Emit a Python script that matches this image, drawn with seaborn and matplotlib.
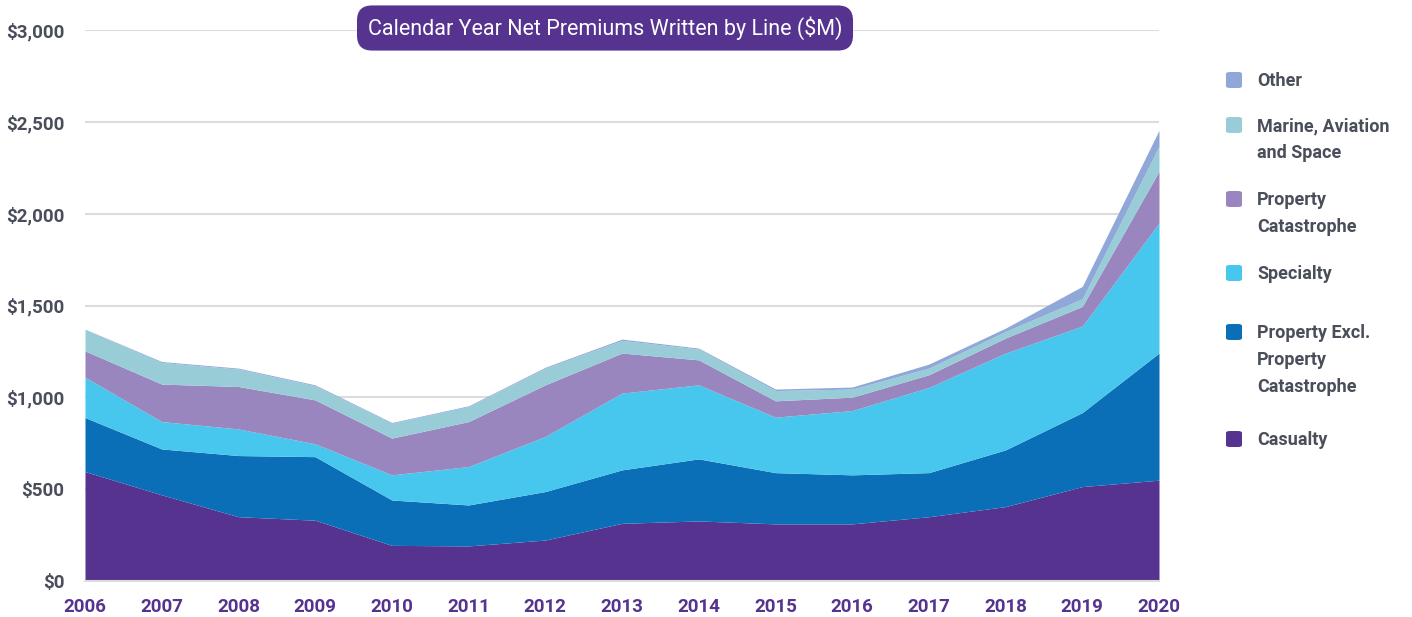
import matplotlib
matplotlib.use("Agg")
import matplotlib.pyplot as plt
import seaborn as sns
import numpy as np
from matplotlib.patches import FancyBboxPatch
from matplotlib.ticker import FuncFormatter

years = [2006, 2007, 2008, 2009, 2010, 2011, 2012, 2013, 2014, 2015, 2016, 2017, 2018, 2019, 2020]
casualty = [596, 469, 350, 331, 194, 191, 223, 314, 327, 311, 311, 350, 405, 514, 549]
property_excl = [294, 250, 333, 346, 247, 223, 264, 291, 338, 279, 267, 240, 309, 403, 692]
specialty = [220, 149, 145, 70, 137, 209, 300, 418, 403, 302, 350, 464, 527, 471, 708]
property_cat = [143, 204, 231, 239, 200, 245, 281, 218, 136, 89, 73, 69, 82, 107, 282]
marine = [115, 118, 95, 77, 81, 82, 91, 69, 59, 56, 44, 36, 36, 42, 136]
other = [3, 5, 5, 5, 4, 4, 5, 7, 5, 8, 11, 22, 18, 67, 87]

series_names = ["Casualty", "Property Excl.\nProperty\nCatastrophe", "Specialty",
                "Property\nCatastrophe", "Marine, Aviation\nand Space", "Other"]
colors = ["#55338F", "#0B6FB8", "#47C6EE", "#9A86BE", "#98CCD6", "#8FA8D8"]
yticks = [0, 500, 1000, 1500, 2000, 2500, 3000]

sns.set_theme(style="white")
FONT = ["Roboto", "DejaVu Sans"]
plt.rcParams["font.family"] = FONT

fig = plt.figure(figsize=(14.12, 6.17), dpi=100)
ax = fig.add_axes([85 / 1412, 1 - 581 / 617, (1159 - 85) / 1412, (581 - 30) / 617])

data = [casualty, property_excl, specialty, property_cat, marine, other]
ax.stackplot(years, data, colors=colors, linewidth=0, zorder=2, antialiased=True)

ax.set_xlim(2006, 2020)
ax.set_ylim(0, 3000)
ax.set_yticks(yticks)
ax.yaxis.set_major_formatter(FuncFormatter(lambda v, p: f"${int(v):,}"))
ax.set_xticks(years)
ax.set_xticklabels([str(y) for y in years])
ax.grid(axis="y", color="#DCDCDC", linewidth=1.5, zorder=0)
ax.grid(axis="x", visible=False)
for s in ["top", "right", "left"]:
    ax.spines[s].set_visible(False)
ax.spines["bottom"].set_color("#DCDCDC")
ax.spines["bottom"].set_linewidth(1.5)
ax.tick_params(axis="y", length=0, pad=15, labelsize=13.5, labelcolor="#4A4E5A")
ax.tick_params(axis="x", length=0, pad=12, labelsize=13.5, labelcolor="#55338F")
for lab in ax.get_yticklabels() + ax.get_xticklabels():
    lab.set_fontweight("bold")

# Title box
tx, ty = 605 / 1412, 1 - 28 / 617
fig.text(tx, ty, "Calendar Year Net Premiums Written by Line ($M)", ha="center", va="center",
         color="white", fontsize=15.5, family=FONT,
         bbox=dict(boxstyle="round,pad=0.5,rounding_size=0.7", fc="#55338F", ec="none"))

# Legend
legend_items = [
    ("Other", colors[5], 80),
    ("Marine, Aviation\nand Space", colors[4], 125),
    ("Property\nCatastrophe", colors[3], 199),
    ("Specialty", colors[2], 273),
    ("Property Excl.\nProperty\nCatastrophe", colors[1], 332),
    ("Casualty", colors[0], 439),
]
for label, col, ypx in legend_items:
    sq = FancyBboxPatch((1226 / 1412, 1 - (ypx + 8) / 617), 16 / 1412, 16 / 617,
                        boxstyle="round,pad=0,rounding_size=0.003", transform=fig.transFigure,
                        fc=col, ec="none")
    fig.patches.append(sq)
    fig.text(1257 / 1412, 1 - (ypx - 8) / 617, label, ha="left", va="top",
             color="#4A4E5A", fontsize=13, fontweight="bold", family=FONT, linespacing=1.65)

fig.savefig("out.png", dpi=100, facecolor="white")
